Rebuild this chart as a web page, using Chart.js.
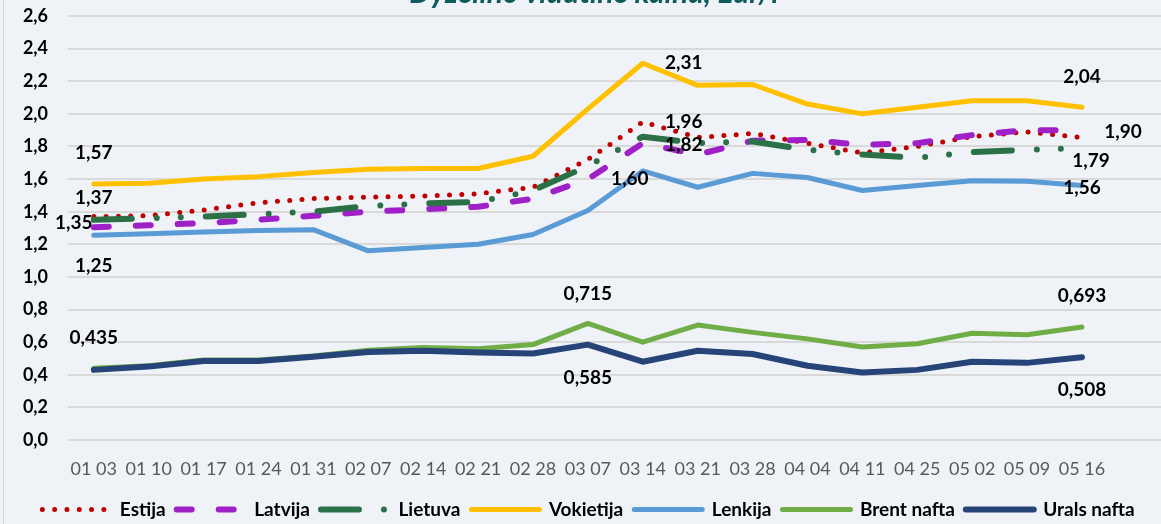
<!DOCTYPE html>
<html>
<head>
<meta charset="utf-8">
<script src="https://cdn.jsdelivr.net/npm/chart.js@4.4.1/dist/chart.umd.min.js"></script>
<style>
  html, body { margin: 0; padding: 0; background: #eff3f7; overflow: hidden; }
  #wrap { position: relative; width: 1161px; height: 524px; overflow: hidden; background: #eff3f7; }
  #wrap:before { content: ''; position: absolute; left: 3px; top: 0; bottom: 0; width: 1px; background: #d0d3d6; }
  #title { position: absolute; left: 0; width: 1188px; top: -24px; text-align: center;
           font: italic bold 30px Lato; line-height: 30px; color: #0f5a5c; z-index: 2; }
  canvas { position: absolute; left: 0; top: 0; }
</style>
</head>
<body>
<div id="wrap">
  <div id="title">Dyzelino vidutinė kaina, Eur/l</div>
  <canvas id="chart" width="1161" height="524"></canvas>
</div>
<script>
// dates (MM DD)
const dates = ['01 03', '01 10', '01 17', '01 24', '01 31', '02 07', '02 14', '02 21', '02 28',
               '03 07', '03 14', '03 21', '03 28', '04 04', '04 11', '04 25', '05 02', '05 09', '05 16'];
const yTicks = [0, 0.2, 0.4, 0.6, 0.8, 1.0, 1.2, 1.4, 1.6, 1.8, 2.0, 2.2, 2.4, 2.6];

const estija    = [1.37, 1.375, 1.41, 1.455, 1.48, 1.49, 1.495, 1.51, 1.55, 1.72, 1.95, 1.855, 1.88, 1.82, 1.76, 1.80, 1.86, 1.89, 1.855];
const latvija   = [1.305, 1.317, 1.33, 1.35, 1.375, 1.40, 1.415, 1.43, 1.48, 1.60, 1.82, 1.75, 1.835, 1.84, 1.81, 1.82, 1.87, 1.90, 1.90];
const lietuva   = [1.35, 1.36, 1.37, 1.385, 1.40, 1.435, 1.45, 1.46, 1.53, 1.68, 1.86, 1.82, 1.83, 1.78, 1.75, 1.73, 1.765, 1.78, 1.79];
const vokietija = [1.57, 1.575, 1.60, 1.615, 1.64, 1.66, 1.665, 1.665, 1.74, 2.03, 2.31, 2.175, 2.18, 2.06, 2.00, 2.04, 2.08, 2.08, 2.04];
const lenkija   = [1.255, 1.265, 1.275, 1.285, 1.29, 1.16, 1.18, 1.20, 1.26, 1.407, 1.65, 1.55, 1.635, 1.61, 1.53, 1.56, 1.59, 1.587, 1.56];
const brent     = [0.44, 0.455, 0.49, 0.49, 0.515, 0.55, 0.567, 0.56, 0.585, 0.715, 0.60, 0.705, 0.66, 0.62, 0.57, 0.59, 0.655, 0.645, 0.693];
const urals     = [0.43, 0.45, 0.485, 0.485, 0.51, 0.54, 0.547, 0.537, 0.53, 0.585, 0.48, 0.547, 0.527, 0.455, 0.414, 0.43, 0.48, 0.473, 0.508];

// printed value labels, offset from their point in px
const valueLabels = [
  { series: 'Vokietija', index: 0, text: '1,57', dx: 0, dy: -31 },
  { series: 'Estija', index: 0, text: '1,37', dx: 0, dy: -19 },
  { series: 'Lietuva', index: 0, text: '1,35', dx: -20, dy: 3 },
  { series: 'Lenkija', index: 0, text: '1,25', dx: 0, dy: 31 },
  { series: 'Vokietija', index: 10, text: '2,31', dx: 41, dy: 0 },
  { series: 'Estija', index: 10, text: '1,96', dx: 41, dy: 0 },
  { series: 'Latvija', index: 10, text: '1,82', dx: 41, dy: 2 },
  { series: 'Latvija', index: 9, text: '1,60', dx: 42, dy: 0 },
  { series: 'Vokietija', index: 18, text: '2,04', dx: 0, dy: -30 },
  { series: 'Latvija', index: 18, text: '1,90', dx: 41, dy: 2 },
  { series: 'Lietuva', index: 18, text: '1,79', dx: 9, dy: 13 },
  { series: 'Lenkija', index: 18, text: '1,56', dx: 0, dy: 2 },
  { series: 'Brent nafta', index: 0, text: '0,435', dx: 0, dy: -30 },
  { series: 'Brent nafta', index: 9, text: '0,715', dx: 0, dy: -30 },
  { series: 'Urals nafta', index: 9, text: '0,585', dx: 0, dy: 33 },
  { series: 'Brent nafta', index: 18, text: '0,693', dx: 0, dy: -31 },
  { series: 'Urals nafta', index: 18, text: '0,508', dx: 0, dy: 33 },
];

const points = (vals) => vals.map((y, i) => ({ x: i, y }));

const line = (label, vals, color, width, dash, order) => ({
  label,
  data: points(vals),
  borderColor: color,
  backgroundColor: color,
  borderWidth: width,
  borderDash: dash,
  borderCapStyle: 'round',
  borderJoinStyle: 'round',
  pointRadius: 0,
  tension: 0,
  fill: false,
  order,
});

const labelPlugin = {
  id: 'valueLabels',
  afterLayout(chart) {
    // legend row sits slightly right of centre in the original
    chart.legend.left += 8;
    chart.legend.right += 8;
  },
  afterDatasetsDraw(chart) {
    const ctx = chart.ctx;
    ctx.save();
    ctx.font = 'bold 19px Lato';
    ctx.fillStyle = '#000';
    ctx.textAlign = 'center';
    ctx.textBaseline = 'middle';
    valueLabels.forEach(l => {
      const di = chart.data.datasets.findIndex(d => d.label === l.series);
      const pt = chart.getDatasetMeta(di).data[l.index];
      ctx.fillText(l.text, pt.x + l.dx, pt.y + l.dy);
    });
    ctx.restore();
  },
};

new Chart(document.getElementById('chart'), {
  type: 'line',
  data: {
    datasets: [
      line('Estija', estija, '#c00000', 5, [0, 12.3], 7),
      line('Latvija', latvija, '#a020c8', 6, [15, 27], 6),
      line('Lietuva', lietuva, '#2b7046', 6, [38, 25, 0, 24, 0, 25], 5),
      line('Vokietija', vokietija, '#ffc000', 5, [], 4),
      line('Lenkija', lenkija, '#5b9bd5', 5, [], 3),
      line('Brent nafta', brent, '#70ad47', 5, [], 2),
      line('Urals nafta', urals, '#264478', 6, [], 1),
    ],
  },
  options: {
    responsive: false,
    animation: false,
    layout: { padding: { left: 0, top: 16, right: 0, bottom: -5 } },
    plugins: {
      title: { display: false },
      tooltip: { enabled: false },
      legend: {
        position: 'bottom',
        labels: {
          usePointStyle: true,
          pointStyle: 'line',
          pointStyleWidth: 68,
          padding: 11,
          color: '#000',
          font: { family: 'Lato', size: 19, weight: 'bold' },
          sort: (a, b) => a.datasetIndex - b.datasetIndex,
          generateLabels: (chart) =>
            Chart.defaults.plugins.legend.labels.generateLabels(chart).map(item => {
              const ds = chart.data.datasets[item.datasetIndex];
              return { ...item, lineDash: ds.borderDash, lineCap: 'round',
                       lineWidth: ds.borderWidth, strokeStyle: ds.borderColor };
            }),
        },
      },
    },
    scales: {
      x: {
        type: 'linear',
        min: -0.47,
        max: 19.44,
        afterBuildTicks: (s) => { s.ticks = dates.map((_, i) => ({ value: i })); },
        afterFit: (s) => { s.height = 49; },
        grid: { display: false, drawTicks: false },
        border: { display: false },
        ticks: {
          callback: (v) => dates[v],
          color: '#595959',
          font: { family: 'Lato', size: 18 },
          padding: 18,
          maxRotation: 0,
          autoSkip: false,
        },
      },
      y: {
        min: 0,
        max: 2.6,
        afterBuildTicks: (s) => { s.ticks = yTicks.map(v => ({ value: v })); },
        afterFit: (s) => { s.width = 68; s.paddingTop = 0; s.paddingBottom = 0; },
        grid: { color: '#d9d9d9', lineWidth: 2, drawTicks: false },
        border: { display: false },
        ticks: {
          callback: (v) => v.toFixed(1).replace('.', ','),
          color: '#000',
          font: { family: 'Lato', size: 18, weight: 'bold' },
          padding: 20,
        },
      },
    },
  },
  plugins: [labelPlugin],
});
</script>
</body>
</html>
